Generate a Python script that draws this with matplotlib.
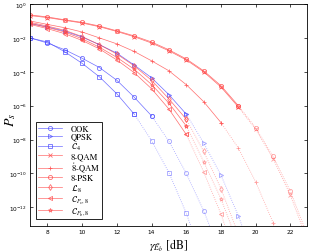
import numpy as np
import matplotlib
matplotlib.use("Agg")
import matplotlib.pyplot as plt

plt.rcParams["mathtext.fontset"] = "stix"

# SNR grid in dB (1 dB steps starting at 7 dB)
snr_start = 7

# log10 of P_s, one value per dB
ook_exp = [-2.0, -2.3, -2.7, -3.2, -3.75, -4.5, -5.5, -6.6, -8.1, -10.0, -12.2, -14.8]
qpsk_exp = [-1.15, -1.35, -1.6, -1.95, -2.4, -2.9, -3.6, -4.35, -5.35, -6.5, -8.2, -10.1, -12.5, -15.3]
c4_exp = [-2.0, -2.24, -2.82, -3.5, -4.3, -5.3, -6.5, -8.06, -9.95, -12.35, -15.2]
qam8_exp = [-0.68, -0.8, -0.96, -1.12, -1.34, -1.62, -1.93, -2.3, -2.76, -3.3, -4.0, -4.9, -6.08, -7.4, -9.12, -11.3, -14.0]
qam8r_exp = [-1.0, -1.2, -1.4, -1.65, -2.0, -2.35, -2.8, -3.35, -3.94, -4.76, -5.76, -7.0, -8.5, -10.5, -12.9, -15.6]
psk8_exp = [-0.64, -0.76, -0.93, -1.08, -1.3, -1.58, -1.88, -2.24, -2.7, -3.24, -3.94, -4.82, -6.0, -7.3, -9.0, -11.06, -13.7]
l8_exp = [-1.08, -1.3, -1.55, -1.92, -2.4, -2.95, -3.65, -4.5, -5.6, -6.8, -8.7, -10.9, -13.6]
cps8_exp = [-1.2, -1.45, -1.75, -2.15, -2.65, -3.3, -4.05, -5.0, -6.2, -7.7, -9.9, -12.4, -15.4]
cpb8_exp = [-1.14, -1.38, -1.65, -2.05, -2.55, -3.15, -3.85, -4.75, -5.85, -7.2, -9.3, -11.5, -14.2]

# last dB value drawn with a solid line (dotted afterwards)
last_solid = {"ook": 14, "qpsk": 16, "c4": 13, "qam8": 19, "qam8r": 18,
              "psk8": 19, "l8": 16, "cps8": 16, "cpb8": 16}

labels = ["OOK", "QPSK", r"$\mathcal{C}_4$", "8-QAM", r"$\mathring{8}$-QAM",
          "8-PSK", r"$\mathcal{L}_8$", r"$\mathcal{C}_{P_s,8}$", r"$\mathcal{C}_{P_b,8}$"]

blue = "#4a4aff"
red = "#ff4848"

curves = [
    ("ook", ook_exp, blue, "o"),
    ("qpsk", qpsk_exp, blue, ">"),
    ("c4", c4_exp, blue, "s"),
    ("qam8", qam8_exp, red, "x"),
    ("qam8r", qam8r_exp, red, "+"),
    ("psk8", psk8_exp, red, "o"),
    ("l8", l8_exp, red, "d"),
    ("cps8", cps8_exp, red, "<"),
    ("cpb8", cpb8_exp, red, "*"),
]

fig = plt.figure(figsize=(3.10, 2.53), dpi=100)
ax = fig.add_axes([0.097, 0.103, 0.893, 0.877])

handles = []
for (key, exps, col, mk), lab in zip(curves, labels):
    x = snr_start + np.arange(len(exps))
    y = 10.0 ** np.array(exps)
    k = last_solid[key] - snr_start
    h, = ax.plot(x[:k + 1], y[:k + 1], "-", color=col, marker=mk, ms=3,
                 mfc="none", mew=0.6, lw=0.5, alpha=0.8)
    ax.plot(x[k:], y[k:], ":", color=col, marker=mk, ms=3,
            mfc="none", mew=0.6, lw=0.6, alpha=0.5)
    handles.append(h)

ax.set_yscale("log")
ax.set_xlim(7, 22.95)
ax.set_ylim(10 ** -13.1, 1)
ax.set_xticks(range(8, 23, 2))
ax.set_yticks([10.0 ** e for e in range(-12, 1, 2)])
ax.yaxis.set_minor_locator(matplotlib.ticker.NullLocator())
ax.tick_params(direction="in", top=True, right=True, labelsize=4.2,
               length=2.5, width=0.5, pad=2)
for s in ax.spines.values():
    s.set_linewidth(0.6)

ax.set_ylabel(r"$P_s$", fontsize=10)
ax.yaxis.set_label_coords(-0.045, 0.48)
ax.set_xlabel(r"$\gamma_{\bar{E}_b}$ [dB]", fontsize=8.5, family="STIXGeneral",
              labelpad=2)

leg = ax.legend(handles, labels, loc="lower left", bbox_to_anchor=(0.005, 0.01),
                prop={"family": "STIXGeneral", "size": 6.2}, fancybox=False,
                framealpha=1, edgecolor="black", handlelength=2.8,
                labelspacing=0.02, borderpad=0.25, handletextpad=1.0,
                numpoints=1)
leg.get_frame().set_linewidth(0.6)

fig.savefig("out.png", dpi=100)
